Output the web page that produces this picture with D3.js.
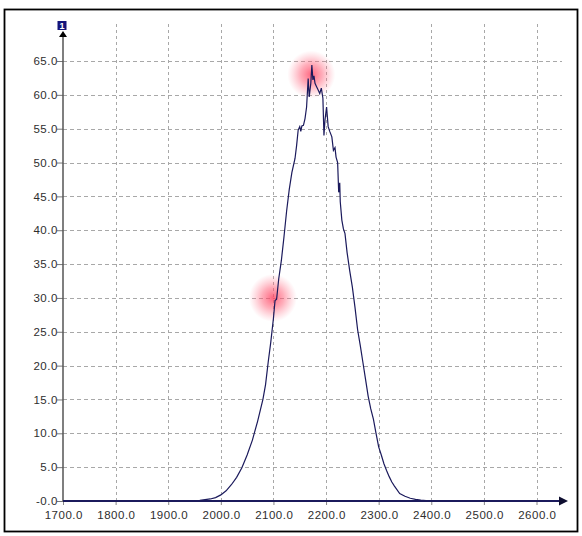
<!DOCTYPE html>
<html>
<head>
<meta charset="utf-8">
<script src="https://cdn.jsdelivr.net/npm/d3@7"></script>
<style>
    body { margin: 0; background: #fff; }
    svg { display: block; font-family: "Liberation Sans", Arial, sans-serif; }
    .tick text { font-size: 11.5px; fill: #2e2e2e; letter-spacing: 0.5px; }
</style>
</head>
<body>
<svg class="chart-img"></svg>
<script>
const xValues = [1700, 1940, 1950, 1960, 1970, 1980, 1990, 2000, 2010, 2020, 2030, 2040,
    2050, 2060, 2070, 2080, 2085, 2090, 2095, 2100, 2103, 2106, 2110, 2115, 2120, 2125,
    2130, 2135, 2141, 2144, 2147, 2150, 2152, 2154, 2157, 2160, 2163, 2166, 2168, 2171,
    2173, 2175, 2177, 2179, 2182, 2185, 2188, 2191, 2194, 2196, 2198, 2201, 2204, 2207,
    2211, 2214, 2217, 2219, 2222, 2224, 2226, 2227, 2230, 2233, 2236, 2240, 2245, 2250,
    2255, 2260, 2265, 2270, 2275, 2280, 2285, 2290, 2295, 2300, 2305, 2310, 2315, 2320,
    2325, 2330, 2340, 2350, 2360, 2370, 2380, 2390, 2400];
const yValues = [0, 0, 0.05, 0.1, 0.2, 0.3, 0.5, 0.9, 1.5, 2.4, 3.5, 4.9,
    6.8, 9.0, 11.8, 15.0, 17.2, 20.5, 23.5, 27.0, 29.6, 29.8, 32.8, 35.5, 39.0, 42.8,
    46.0, 48.5, 50.6, 52.5, 54.8, 55.3, 54.6, 55.4, 55.5, 56.5, 58.2, 62.4, 59.7, 61.7,
    64.4, 62.2, 62.8, 61.7, 61.2, 60.7, 60.2, 61.0, 59.5, 54.0, 56.3, 58.2, 55.3, 54.6,
    53.8, 51.8, 52.2, 50.8, 50.0, 45.6, 47.0, 44.2, 41.5, 40.2, 39.5, 36.7, 34.0, 31.6,
    28.6, 25.3, 23.0, 20.5, 18.0, 15.5, 13.6, 12.1, 10.0, 8.0, 6.8, 5.5, 4.5, 3.6,
    2.8, 2.2, 1.1, 0.7, 0.4, 0.25, 0.12, 0.05, 0];

const xTicks = [1700, 1800, 1900, 2000, 2100, 2200, 2300, 2400, 2500, 2600];
const xTickLabels = ['1700.0', '1800.0', '1900.0', '2000.0', '2100.0', '2200.0',
    '2300.0', '2400.0', '2500.0', '2600.0'];
const yTicks = [0, 5, 10, 15, 20, 25, 30, 35, 40, 45, 50, 55, 60, 65];
const yTickLabels = ['-0.0', '5.0', '10.0', '15.0', '20.0', '25.0', '30.0', '35.0',
    '40.0', '45.0', '50.0', '55.0', '60.0', '65.0'];

// red marker glows
const markX = [2172, 2099];
const markY = [63, 30];

const width = 582, height = 536;
const lineColor = '#1b1a5c';

const chart = d3.select('.chart-img')
    .attr('width', width)
    .attr('height', height);

const xScale = d3.scaleLinear().domain([1700, 2600]).range([63, 536.5]);
const yScale = d3.scaleLinear().domain([0, 65]).range([501, 61]);

const defs = chart.append('defs');
const glow = defs.append('radialGradient').attr('id', 'glow');
glow.append('stop').attr('offset', '0%').attr('stop-color', '#ff4060').attr('stop-opacity', 0.8);
glow.append('stop').attr('offset', '45%').attr('stop-color', '#ff5a74').attr('stop-opacity', 0.5);
glow.append('stop').attr('offset', '100%').attr('stop-color', '#ff8095').attr('stop-opacity', 0);

// outer frame
chart.append('rect')
    .attr('x', 4.5).attr('y', 9.5)
    .attr('width', 573).attr('height', 522)
    .attr('fill', '#fff')
    .attr('stroke', '#000')
    .attr('stroke-width', 1.8);

// grid
const yMax = yScale.invert(22);
chart.append('g')
    .selectAll('line')
    .data(yTicks.slice(1))
    .enter()
    .append('line')
    .attr('x1', xScale(1700)).attr('x2', 562)
    .attr('y1', d => Math.round(yScale(d)) + 0.5)
    .attr('y2', d => Math.round(yScale(d)) + 0.5)
    .attr('stroke', '#a8a8a8')
    .attr('stroke-dasharray', '4,3');

chart.append('g')
    .selectAll('line')
    .data(xTicks.slice(1))
    .enter()
    .append('line')
    .attr('x1', d => Math.round(xScale(d)) + 0.5)
    .attr('x2', d => Math.round(xScale(d)) + 0.5)
    .attr('y1', yScale(0)).attr('y2', yScale(yMax))
    .attr('stroke', '#a8a8a8')
    .attr('stroke-dasharray', '3,3');

// axes
const yAxis = chart.append('g')
    .attr('transform', `translate(${xScale(1700)}, 0)`)
    .call(d3.axisLeft(yScale).tickValues(yTicks)
        .tickFormat((d, i) => yTickLabels[i]).tickSize(6).tickSizeOuter(0));
yAxis.select('.domain').remove();
yAxis.selectAll('.tick line').attr('stroke', '#777');
yAxis.selectAll('.tick text').attr('x', -5.2);

const xAxis = chart.append('g')
    .attr('transform', `translate(0, ${yScale(0)})`)
    .call(d3.axisBottom(xScale).tickValues(xTicks)
        .tickFormat((d, i) => xTickLabels[i]).tickSize(4).tickPadding(6).tickSizeOuter(0));
xAxis.select('.domain').remove();
xAxis.selectAll('.tick line').attr('stroke', '#888');
xAxis.selectAll('.tick text').attr('dx', 0.3);

// y axis line with arrow
chart.append('line')
    .attr('x1', xScale(1700)).attr('x2', xScale(1700))
    .attr('y1', yScale(0)).attr('y2', 34)
    .attr('stroke', '#555').attr('stroke-width', 1.5);
chart.append('path')
    .attr('d', `M${xScale(1700) - 4},37 L${xScale(1700)},31 L${xScale(1700) + 4},37 Z`)
    .attr('fill', '#000');

// series badge
chart.append('rect')
    .attr('x', 57.5).attr('y', 21)
    .attr('width', 9).attr('height', 9)
    .attr('fill', '#14147a');
chart.append('text')
    .attr('x', 62).attr('y', 29)
    .attr('text-anchor', 'middle')
    .attr('font-size', 9)
    .attr('font-weight', 'bold')
    .attr('fill', '#fff')
    .text('1');

// glows under the curve
chart.selectAll('.glow')
    .data(markX)
    .enter()
    .append('circle')
    .classed('glow', true)
    .attr('cx', d => xScale(d))
    .attr('cy', (d, i) => yScale(markY[i]))
    .attr('r', 24)
    .attr('fill', 'url(#glow)');

// curve
const line = d3.line()
    .x((d, i) => xScale(xValues[i]))
    .y(d => yScale(d));

chart.append('path')
    .datum(yValues)
    .attr('d', line)
    .attr('fill', 'none')
    .attr('stroke', lineColor)
    .attr('stroke-width', 1.2);

// x axis line with arrow
chart.append('line')
    .attr('x1', xScale(1700)).attr('x2', 561)
    .attr('y1', yScale(0)).attr('y2', yScale(0))
    .attr('stroke', lineColor).attr('stroke-width', 2.2);
chart.append('path')
    .attr('d', `M559,${yScale(0) - 4.5} L568,${yScale(0)} L559,${yScale(0) + 4.5} Z`)
    .attr('fill', '#0e0e30');
</script>
</body>
</html>
